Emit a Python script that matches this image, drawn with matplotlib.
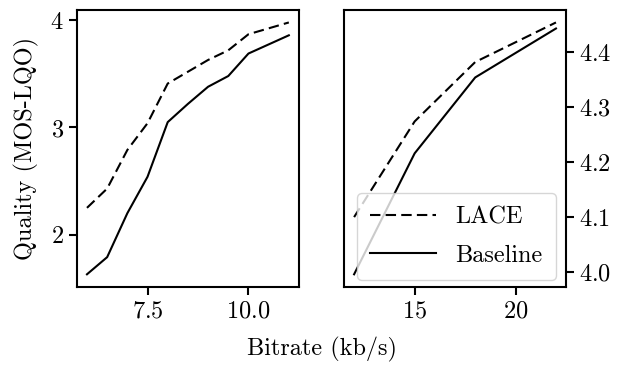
import numpy as np
import matplotlib
matplotlib.use("Agg")
import matplotlib.pyplot as plt

# Computer Modern look
plt.rcParams['font.family'] = 'serif'
plt.rcParams['font.serif'] = ['cmr10']
plt.rcParams['mathtext.fontset'] = 'cm'
plt.rcParams['axes.formatter.use_mathtext'] = True
plt.rcParams['font.size'] = 17.5

# --- low bitrate range ---
rate_low = [6.0, 6.5, 7.0, 7.5, 8.0, 8.5, 9.0, 9.5, 10.0, 11.0]
lace_low = [2.25, 2.43, 2.79, 3.04, 3.41, 3.52, 3.63, 3.72, 3.87, 3.98]
base_low = [1.63, 1.79, 2.20, 2.54, 3.05, 3.22, 3.38, 3.48, 3.69, 3.86]

# --- high bitrate range ---
rate_high = [12, 15, 18, 22]
lace_high = [4.100, 4.274, 4.382, 4.454]
base_high = [3.996, 4.216, 4.354, 4.443]

fig, (ax1, ax2) = plt.subplots(1, 2, figsize=(6.2, 3.65), dpi=100)
fig.subplots_adjust(left=0.124, right=0.913, top=0.973, bottom=0.214, wspace=0.203)

dash = (5.0, 2.5)
ax1.plot(rate_low, lace_low, 'k--', lw=1.5, dashes=dash, label='LACE')
ax1.plot(rate_low, base_low, 'k-', lw=1.5, label='Baseline')
ax1.set_xticks([7.5, 10.0])
ax1.set_yticks([2, 3, 4])
ax1.set_ylabel('Quality (MOS-LQO)', labelpad=8)

ax2.plot(rate_high, lace_high, 'k--', lw=1.5, dashes=dash, label='LACE')
ax2.plot(rate_high, base_high, 'k-', lw=1.5, label='Baseline')
ax2.set_xticks([15, 20])
ax2.set_yticks([4.0, 4.1, 4.2, 4.3, 4.4])
ax2.yaxis.tick_right()
ax2.legend(loc='lower left', bbox_to_anchor=(0.058, 0.025), borderaxespad=0,
           handlelength=2.7, labelspacing=0.65, borderpad=0.55)

for ax in (ax1, ax2):
    for s in ax.spines.values():
        s.set_linewidth(1.5)
    ax.tick_params(width=1.5, length=6)

fig.text(0.519, 0.025, 'Bitrate (kb/s)', ha='center', va='baseline')

plt.savefig("out.png")
